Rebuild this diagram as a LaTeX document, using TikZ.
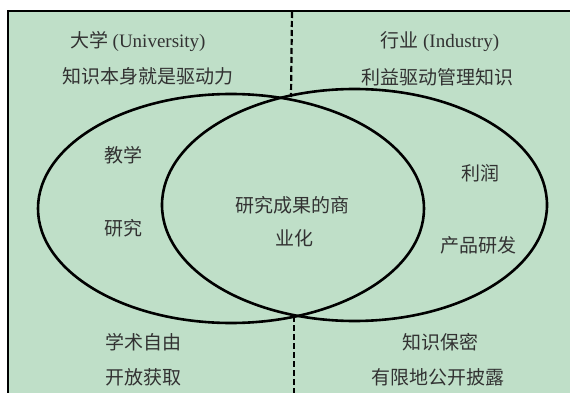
\documentclass[tikz,border=0pt]{standalone}
\usepackage{fontspec}
\setmainfont{Liberation Serif}
\newfontfamily\cjk{Noto Sans CJK SC}
\definecolor{bgreen}{RGB}{191,223,200}
\definecolor{txt}{RGB}{50,50,50}
\begin{document}
\begin{tikzpicture}[x=1pt,y=-1pt,
  lbl/.style={text=txt,font=\fontsize{19}{21}\selectfont\cjk,inner sep=0pt,anchor=center},
  ring/.style={line width=2.6pt,draw=black},
  divider/.style={line width=2.2pt,dash pattern=on 6pt off 3pt}]
\useasboundingbox (0,0) rectangle (570,393);
\fill[white] (0,0) rectangle (570,393);
\fill[bgreen] (8,11) rectangle (570,393);
\draw[line width=2.6pt] (8,393) -- (8,11) -- (570,11);
% ellipses
\draw[ring] (231,208.5) ellipse [x radius=193, y radius=114.5];
\draw[ring] (354.5,205) ellipse [x radius=192.5, y radius=116];
% divider
\coordinate (dtop) at (292,12);
\coordinate (itop) at (291,97);
\coordinate (ibot) at (294,316);
\coordinate (dbot) at (294,393);
\draw[divider] (dtop) -- (itop);
\draw[divider] (ibot) -- (dbot);
% texts
\node[lbl] (uni) at (138,41) {大学 {\rmfamily (University)}};
\node[lbl] (unid) at (147.5,76) {知识本身就是驱动力};
\node[lbl] (ind) at (440,42) {行业 {\rmfamily (Industry)}};
\node[lbl] (indd) at (437,77) {利益驱动管理知识};
\node[lbl] (teach) at (123,155) {教学};
\node[lbl] (res) at (123,228) {研究};
\node[lbl] (com1) at (292,205) {研究成果的商};
\node[lbl] (com2) at (294,238) {业化};
\node[lbl] (profit) at (480,173) {利润};
\node[lbl] (prod) at (478,245) {产品研发};
\node[lbl] (free) at (143,342) {学术自由};
\node[lbl] (open) at (143,377) {开放获取};
\node[lbl] (secret) at (440,342) {知识保密};
\node[lbl] (limit) at (438,377) {有限地公开披露};
\end{tikzpicture}
\end{document}
